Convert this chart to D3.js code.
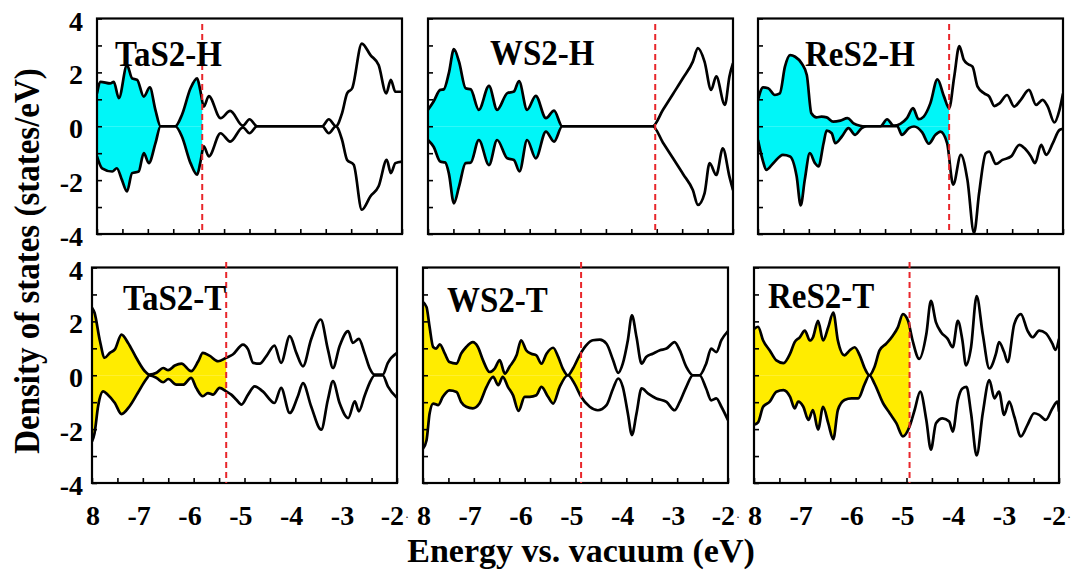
<!DOCTYPE html>
<html>
<head>
<meta charset="utf-8">
<script src="https://cdn.jsdelivr.net/npm/d3@7"></script>
<style>
    body { margin: 0; background: #fff; }
    svg text { font-family: "Liberation Serif", "Times New Roman", serif; font-weight: bold; fill: #000; }
</style>
</head>
<body>
<svg id="chart" width="1082" height="578"></svg>
<script>
// axis ranges and tick labels
const xDomain = [-8, -2]
const yDomain = [-4, 4]
const xTickValues = [-8, -7, -6, -5, -4, -3, -2]
const xTickLabels = ['8', '-7', '-6', '-5', '-4', '-3', '-2']
const yTickValues = [4, 2, 0, -2, -4]
const yTickLabels = ['4', '2', '0', '-2', '-4']

const panelNames = ['TaS2-H', 'WS2-H', 'ReS2-H', 'TaS2-T', 'WS2-T', 'ReS2-T']
// Fermi level of each panel (eV)
const fermiLevels = [-5.93, -3.53, -4.24, -5.36, -4.89, -4.94]

// spin up / spin down DOS, [energy, states/eV]
const tas2hUp = [[-8, 1.22], [-7.93, 1.65], [-7.74, 1.59], [-7.67, 1.65], [-7.57, 1.04], [-7.41, 2.27], [-7.31, 1.78],
    [-7.21, 1.72], [-7.08, 1.1], [-6.96, 1.44], [-6.85, 0.6], [-6.75, 0], [-6.46, 0], [-6.33, 0.42], [-6.16, 1.41],
    [-6.03, 1.78], [-5.97, 1.35], [-5.9, 0.73], [-5.8, 1.12], [-5.57, 0.3], [-5.38, 0.57], [-5.13, 0.02], [-5.0, 0.26],
    [-4.85, 0], [-3.57, 0], [-3.44, 0.26], [-3.3, 0], [-3.18, 0.48], [-3.08, 1.22], [-2.98, 1.41], [-2.79, 3.07],
    [-2.62, 2.64], [-2.46, 2.27], [-2.31, 1.22], [-2.22, 1.72], [-2.13, 1.28], [-2, 1.28]]
const tas2hDown = [[-8, -1.12], [-7.9, -1.56], [-7.7, -1.68], [-7.61, -1.56], [-7.51, -1.99], [-7.41, -2.42], [-7.31, -1.74],
    [-7.18, -1.68], [-7.08, -1.0], [-6.98, -1.37], [-6.85, -0.63], [-6.75, 0], [-6.46, 0], [-6.33, -0.38], [-6.16, -1.37],
    [-6.03, -1.8], [-5.97, -1.37], [-5.9, -0.75], [-5.8, -1.12], [-5.57, -0.26], [-5.38, -0.57], [-5.13, -0.04], [-5.0, -0.26],
    [-4.85, 0], [-3.57, 0], [-3.44, -0.26], [-3.3, 0], [-3.18, -0.5], [-3.08, -1.25], [-2.95, -1.43], [-2.79, -3.1],
    [-2.62, -2.6], [-2.46, -2.23], [-2.3, -1.25], [-2.22, -1.74], [-2.13, -1.37], [-2, -1.31]]

const ws2hUp = [[-8, 0.61], [-7.89, 0.92], [-7.76, 1.35], [-7.69, 1.37], [-7.59, 1.97], [-7.49, 2.86], [-7.39, 2.4],
    [-7.26, 1.41], [-7.16, 1.37], [-7.0, 0.61], [-6.8, 1.5], [-6.64, 0.61], [-6.44, 1.23], [-6.31, 1.29], [-6.21, 1.68],
    [-6.05, 0.61], [-5.88, 1.13], [-5.68, 0.3], [-5.52, 0.58], [-5.36, 0], [-3.58, 0], [-3.38, 0.6], [-3.18, 1.2],
    [-2.98, 1.8], [-2.79, 2.4], [-2.69, 2.9], [-2.56, 2.4], [-2.43, 1.35], [-2.33, 1.85], [-2.16, 0.79], [-2.07, 1.85],
    [-2, 2.34]]
const ws2hDown = [[-8, -0.51], [-7.89, -0.76], [-7.76, -1.31], [-7.66, -1.35], [-7.59, -1.75], [-7.49, -2.86], [-7.39, -2.24],
    [-7.26, -1.37], [-7.16, -1.35], [-7.0, -0.51], [-6.8, -1.44], [-6.64, -0.51], [-6.44, -1.19], [-6.31, -1.25], [-6.2, -1.68],
    [-6.05, -0.51], [-5.88, -1.19], [-5.68, -0.2], [-5.52, -0.57], [-5.36, 0], [-3.58, 0], [-3.38, -0.6], [-3.18, -1.19],
    [-2.98, -1.78], [-2.79, -2.37], [-2.69, -2.92], [-2.56, -2.49], [-2.46, -1.37], [-2.33, -1.81], [-2.2, -0.82],
    [-2.07, -1.87], [-2, -2.37]]

const res2hUp = [[-8, 0.98], [-7.9, 1.44], [-7.8, 1.41], [-7.67, 1.16], [-7.57, 1.22], [-7.47, 2.21], [-7.37, 2.64],
    [-7.27, 2.58], [-7.14, 2.33], [-7.04, 1.9], [-6.95, 0.48], [-6.85, 0.33], [-6.75, 0.36], [-6.65, 0.33], [-6.52, 0.17],
    [-6.38, 0.21], [-6.24, 0.3], [-6.12, 0.11], [-5.99, 0.02], [-5.89, 0], [-5.59, 0], [-5.46, 0.26], [-5.33, 0.02],
    [-5.2, 0.09], [-5.07, 0.3], [-4.95, 0.67], [-4.84, 0.26], [-4.74, 0.36], [-4.61, 0.85], [-4.47, 1.74], [-4.34, 1.1],
    [-4.24, 0.67], [-4.14, 1.84], [-4.04, 2.98], [-3.95, 2.46], [-3.87, 2.31], [-3.78, 2.21], [-3.68, 1.47], [-3.55, 1.22],
    [-3.45, 1.1], [-3.35, 0.75], [-3.25, 0.85], [-3.1, 1.16], [-2.96, 0.73], [-2.83, 0.98], [-2.67, 1.35], [-2.53, 0.79],
    [-2.4, 0.98], [-2.3, 0.73], [-2.17, 0.14], [-2.07, 0.6], [-2, 1.22]]
const res2hDown = [[-8, -0.51], [-7.9, -1.31], [-7.84, -1.62], [-7.7, -1.37], [-7.51, -1.06], [-7.37, -1.12], [-7.24, -1.86],
    [-7.16, -2.94], [-7.08, -1.99], [-6.98, -1.0], [-6.88, -1.37], [-6.81, -1.49], [-6.71, -0.63], [-6.65, -0.16],
    [-6.55, -0.26], [-6.48, -0.63], [-6.35, -0.38], [-6.22, -0.07], [-6.09, -0.32], [-5.96, -0.07], [-5.86, 0], [-5.26, 0],
    [-5.17, -0.32], [-5.03, -0.07], [-4.93, -0.01], [-4.77, -0.23], [-4.64, -0.65], [-4.51, -0.32], [-4.41, -0.2],
    [-4.28, -0.63], [-4.16, -2.17], [-4.01, -1.06], [-3.88, -1.99], [-3.75, -3.96], [-3.65, -2.48], [-3.52, -1.0],
    [-3.45, -0.94], [-3.32, -1.4], [-3.19, -1.25], [-3.02, -1.12], [-2.86, -0.69], [-2.76, -0.81], [-2.63, -1.12],
    [-2.55, -1.37], [-2.43, -0.69], [-2.33, -1.06], [-2.2, -0.63], [-2.07, -0.14], [-2, -0.1]]

const tas2tUp = [[-8, 2.51], [-7.95, 2.32], [-7.85, 1.33], [-7.75, 0.65], [-7.65, 0.83], [-7.55, 0.96], [-7.42, 1.51],
    [-7.29, 1.2], [-7.13, 0.65], [-6.96, 0.15], [-6.87, 0.02], [-6.73, 0.09], [-6.6, 0.27], [-6.5, 0.19], [-6.37, 0.36],
    [-6.24, 0.43], [-6.05, 0.15], [-5.91, 0.52], [-5.82, 0.83], [-5.69, 0.73], [-5.52, 0.52], [-5.36, 0.65], [-5.23, 0.77],
    [-5.03, 1.14], [-4.93, 0.96], [-4.83, 0.46], [-4.7, 0.43], [-4.57, 0.71], [-4.41, 1.1], [-4.28, 0.46], [-4.11, 1.45],
    [-3.98, 0.83], [-3.85, 0.33], [-3.69, 1.33], [-3.5, 2.07], [-3.36, 0.96], [-3.26, 0.27], [-3.13, 1.08], [-2.96, 1.64],
    [-2.87, 1.2], [-2.75, 1.35], [-2.64, 0.83], [-2.54, 0.27], [-2.44, 0.02], [-2.28, 0.02], [-2.18, 0.46], [-2, 0.83]]
const tas2tDown = [[-8, -2.46], [-7.95, -2.15], [-7.88, -1.15], [-7.78, -0.6], [-7.69, -0.72], [-7.55, -1.03], [-7.42, -1.44],
    [-7.26, -1.15], [-7.1, -0.66], [-6.93, -0.14], [-6.87, -0.01], [-6.73, -0.1], [-6.6, -0.26], [-6.5, -0.14], [-6.34, -0.35],
    [-6.21, -0.35], [-6.05, -0.1], [-5.95, -0.47], [-5.82, -0.78], [-5.72, -0.66], [-5.62, -0.72], [-5.49, -0.47],
    [-5.36, -0.6], [-5.26, -0.72], [-5.16, -0.91], [-5.06, -1.09], [-4.93, -0.72], [-4.8, -0.41], [-4.64, -0.6],
    [-4.41, -1.03], [-4.28, -0.47], [-4.11, -1.4], [-3.95, -0.78], [-3.85, -0.29], [-3.69, -1.15], [-3.49, -2.02],
    [-3.36, -0.91], [-3.26, -0.22], [-3.13, -1.03], [-2.96, -1.59], [-2.83, -0.97], [-2.75, -1.34], [-2.64, -0.78],
    [-2.54, -0.29], [-2.44, -0.01], [-2.28, -0.01], [-2.18, -0.41], [-2, -0.84]]

const ws2tUp = [[-8, 2.72], [-7.93, 2.53], [-7.87, 1.79], [-7.8, 1.05], [-7.74, 0.99], [-7.67, 1.15], [-7.57, 0.8],
    [-7.48, 0.49], [-7.34, 0.43], [-7.25, 0.8], [-7.15, 1.05], [-7.02, 1.23], [-6.92, 1.05], [-6.82, 0.56], [-6.69, 0.12],
    [-6.59, 0.25], [-6.49, 0.56], [-6.39, 0.06], [-6.3, 0.31], [-6.16, 0.74], [-6.07, 1.3], [-5.97, 0.93], [-5.87, 0.8],
    [-5.77, 0.74], [-5.67, 0.43], [-5.57, 0.8], [-5.44, 1.02], [-5.34, 0.68], [-5.25, 0.25], [-5.15, 0], [-5.05, 0.25],
    [-4.92, 0.74], [-4.79, 1.11], [-4.66, 1.3], [-4.52, 1.32], [-4.39, 1.17], [-4.26, 0.56], [-4.16, 0.09], [-4.07, 0.43],
    [-3.97, 1.3], [-3.89, 2.22], [-3.8, 1.42], [-3.7, 0.43], [-3.61, 0.68], [-3.48, 0.8], [-3.34, 0.93], [-3.21, 0.99],
    [-3.05, 1.23], [-2.95, 0.93], [-2.82, 0.31], [-2.69, 0], [-2.56, 0], [-2.43, 0.43], [-2.33, 0.99], [-2.23, 0.86],
    [-2.13, 1.3], [-2, 1.64]]
const ws2tDown = [[-8, -2.72], [-7.93, -2.41], [-7.87, -1.42], [-7.8, -1.05], [-7.7, -1.11], [-7.61, -0.8], [-7.48, -0.56],
    [-7.34, -0.62], [-7.25, -0.99], [-7.15, -1.17], [-7.02, -1.23], [-6.89, -1.05], [-6.75, -0.43], [-6.62, -0.06],
    [-6.52, -0.37], [-6.43, -0.06], [-6.33, -0.43], [-6.23, -0.74], [-6.12, -1.32], [-6.0, -0.8], [-5.9, -0.8], [-5.77, -0.74],
    [-5.67, -0.43], [-5.54, -0.8], [-5.44, -1.05], [-5.31, -0.43], [-5.15, 0], [-5.02, -0.31], [-4.89, -0.8], [-4.72, -1.17],
    [-4.56, -1.3], [-4.39, -1.11], [-4.26, -0.49], [-4.16, -0.12], [-4.07, -0.43], [-3.97, -1.42], [-3.89, -2.22],
    [-3.8, -1.42], [-3.7, -0.49], [-3.57, -0.68], [-3.41, -0.86], [-3.21, -0.99], [-3.05, -1.3], [-2.95, -0.99],
    [-2.82, -0.43], [-2.69, 0], [-2.56, 0], [-2.43, -0.49], [-2.33, -0.93], [-2.23, -0.86], [-2.13, -1.17], [-2, -1.67]]

const res2tUp = [[-8, 1.72], [-7.92, 1.8], [-7.82, 1.29], [-7.69, 0.92], [-7.56, 0.55], [-7.42, 0.45], [-7.29, 0.8],
    [-7.2, 1.23], [-7.1, 1.41], [-7.0, 1.66], [-6.9, 1.29], [-6.84, 1.41], [-6.74, 2.02], [-6.64, 1.29], [-6.54, 1.78],
    [-6.44, 2.33], [-6.35, 1.29], [-6.22, 0.74], [-6.12, 0.92], [-6.02, 1.04], [-5.92, 0.74], [-5.82, 0.25], [-5.73, 0],
    [-5.63, 0.31], [-5.53, 0.92], [-5.4, 1.17], [-5.27, 1.47], [-5.17, 1.78], [-5.07, 2.27], [-4.97, 2.02], [-4.88, 1.29],
    [-4.75, 0.61], [-4.61, 1.53], [-4.52, 2.76], [-4.42, 1.96], [-4.32, 1.6], [-4.19, 1.35], [-4.09, 1.04], [-3.99, 2.02],
    [-3.9, 1.29], [-3.83, 0.37], [-3.73, 1.04], [-3.62, 2.94], [-3.5, 1.53], [-3.37, 0.25], [-3.24, 0.8], [-3.18, 1.23],
    [-3.08, 0.86], [-3.01, 0.49], [-2.88, 1.9], [-2.75, 2.27], [-2.62, 1.66], [-2.52, 1.41], [-2.39, 1.66], [-2.26, 1.56],
    [-2.13, 1.17], [-2.07, 0.94], [-2, 1.35]]
const res2tDown = [[-8, -1.84], [-7.92, -1.75], [-7.82, -1.17], [-7.69, -0.98], [-7.56, -0.61], [-7.42, -0.55], [-7.29, -0.8],
    [-7.2, -1.23], [-7.13, -0.98], [-7.03, -1.17], [-6.93, -1.66], [-6.84, -1.29], [-6.74, -2.02], [-6.64, -1.17],
    [-6.54, -1.78], [-6.44, -2.37], [-6.35, -1.29], [-6.22, -0.92], [-6.08, -0.86], [-5.95, -0.86], [-5.82, -0.31], [-5.73, 0],
    [-5.63, -0.31], [-5.46, -1.04], [-5.33, -1.41], [-5.2, -1.78], [-5.07, -2.27], [-4.94, -1.9], [-4.84, -1.29],
    [-4.73, -0.61], [-4.61, -1.66], [-4.52, -2.76], [-4.42, -1.78], [-4.29, -1.6], [-4.16, -1.72], [-4.09, -2.09],
    [-3.99, -0.92], [-3.9, -0.49], [-3.82, -0.43], [-3.73, -1.41], [-3.62, -2.98], [-3.5, -1.41], [-3.37, -0.18],
    [-3.27, -0.86], [-3.18, -0.61], [-3.08, -1.47], [-2.98, -0.98], [-2.88, -1.53], [-2.75, -2.27], [-2.62, -1.84],
    [-2.49, -1.41], [-2.39, -1.47], [-2.26, -1.66], [-2.13, -1.23], [-2.03, -0.98], [-2, -1.35]]

const upSeries = [tas2hUp, ws2hUp, res2hUp, tas2tUp, ws2tUp, res2tUp]
const downSeries = [tas2hDown, ws2hDown, res2hDown, tas2tDown, ws2tDown, res2tDown]

// layout of the 2x3 grid (pixels)
const panelW = 305
const panelH = 215.5
const layout = [
    {left: 97, top: 18.5, labelX: 18, labelY: 47.5, dashTop: 3.8, fill: '#00f6f8'},
    {left: 428, top: 18.5, labelX: 62, labelY: 46.5, dashTop: 3.8, fill: '#00f6f8'},
    {left: 758, top: 18.5, labelX: 47, labelY: 47.5, dashTop: 3.8, fill: '#00f6f8'},
    {left: 92, top: 267.5, labelX: 31, labelY: 42.5, dashTop: 4.2, fill: '#ffec00'},
    {left: 423, top: 267.5, labelX: 24, labelY: 44.5, dashTop: 4.2, fill: '#ffec00'},
    {left: 754, top: 267.5, labelX: 14, labelY: 40.5, dashTop: 4.2, fill: '#ffec00'}
]

const svg = d3.select('#chart')

const xScale = d3.scaleLinear().domain(xDomain).range([0, panelW])
const yScale = d3.scaleLinear().domain(yDomain).range([panelH, 0])

const line = d3.line()
    .x(d => xScale(d[0]))
    .y(d => yScale(d[1]))
    .curve(d3.curveMonotoneX)

const area = d3.area()
    .x(d => xScale(d[0]))
    .y0(yScale(0))
    .y1(d => yScale(d[1]))
    .curve(d3.curveMonotoneX)

// bold serif label, slightly taller than wide like the original figure
function addLabel(parent, x, y, str, size, anchor, rotate, stretch) {
    return parent.append('text')
        .attr('transform', `translate(${x},${y})${rotate ? ' rotate(' + rotate + ')' : ''} scale(1,${stretch || 1.1})`)
        .attr('text-anchor', anchor || 'start')
        .style('font-size', size + 'px')
        .text(str)
}

panelNames.forEach((name, i) => {
    const p = layout[i]
    const g = svg.append('g').attr('transform', `translate(${p.left},${p.top})`)

    // clip for the filled (occupied) region, up to the Fermi level
    const clipId = `occ-${i}`
    svg.append('clipPath').attr('id', clipId)
        .append('rect')
        .attr('x', 0).attr('y', 0)
        .attr('width', xScale(fermiLevels[i])).attr('height', panelH)

    const plotClip = `plot-${i}`
    svg.append('clipPath').attr('id', plotClip)
        .append('rect')
        .attr('x', 0).attr('y', 0)
        .attr('width', panelW).attr('height', panelH)

    const fills = g.append('g').attr('clip-path', `url(#${clipId})`)
    fills.append('path').attr('d', area(upSeries[i])).attr('fill', p.fill)
    fills.append('path').attr('d', area(downSeries[i])).attr('fill', p.fill)

    const curves = g.append('g').attr('clip-path', `url(#${plotClip})`)
    ;[upSeries[i], downSeries[i]].forEach(s => {
        curves.append('path')
            .attr('d', line(s))
            .attr('fill', 'none')
            .attr('stroke', '#000')
            .attr('stroke-width', 2.7)
            .attr('stroke-linejoin', 'round')
    })

    // inside ticks
    g.append('g')
        .attr('transform', `translate(0,${panelH})`)
        .call(d3.axisBottom(xScale).tickValues(d3.range(-8, -1.99, 0.5)).tickSize(-5).tickFormat(''))
    g.append('g')
        .call(d3.axisLeft(yScale).tickValues(d3.range(-4, 4.01, 1)).tickSize(-5).tickFormat(''))
    g.selectAll('.domain').remove()
    g.selectAll('.tick line').attr('stroke', '#000').attr('stroke-width', 1.6)

    // frame
    g.append('rect')
        .attr('width', panelW).attr('height', panelH)
        .attr('fill', 'none').attr('stroke', '#000').attr('stroke-width', 2.2)

    // Fermi level
    g.append('line')
        .attr('x1', xScale(fermiLevels[i])).attr('x2', xScale(fermiLevels[i]))
        .attr('y1', yScale(p.dashTop)).attr('y2', panelH)
        .attr('stroke', '#e8262b')
        .attr('stroke-width', 2)
        .attr('stroke-dasharray', '6,4')

    addLabel(g, p.labelX, p.labelY, name, 33)

    // tick labels, left column and bottom row only
    if (i % 3 === 0) {
        yTickValues.forEach((v, k) => {
            g.append('text')
                .attr('x', 83 - p.left).attr('y', yScale(v))
                .attr('dy', '0.43em')
                .attr('text-anchor', 'end')
                .style('font-size', '28px')
                .text(yTickLabels[k])
        })
    }
    if (i >= 3) {
        xTickValues.forEach((v, k) => {
            const t = g.append('text')
                .attr('x', xScale(v) + (v === -2 ? 12 : 8)).attr('y', panelH + 42)
                .attr('text-anchor', 'end')
                .style('font-size', '28px')
                .text(xTickLabels[k])
            if (v === -2) {
                t.append('tspan').attr('dx', 1).attr('dy', -4)
                    .style('font-size', '12px').style('font-weight', 'normal')
                    .text('·')
            }
        })
    }
})

// axis titles
addLabel(svg, 39, 261, 'Density of states (states/eV)', 33, 'middle', -90)
addLabel(svg, 581, 562, 'Energy vs. vacuum (eV)', 34, 'middle', null, 1)
</script>
</body>
</html>
